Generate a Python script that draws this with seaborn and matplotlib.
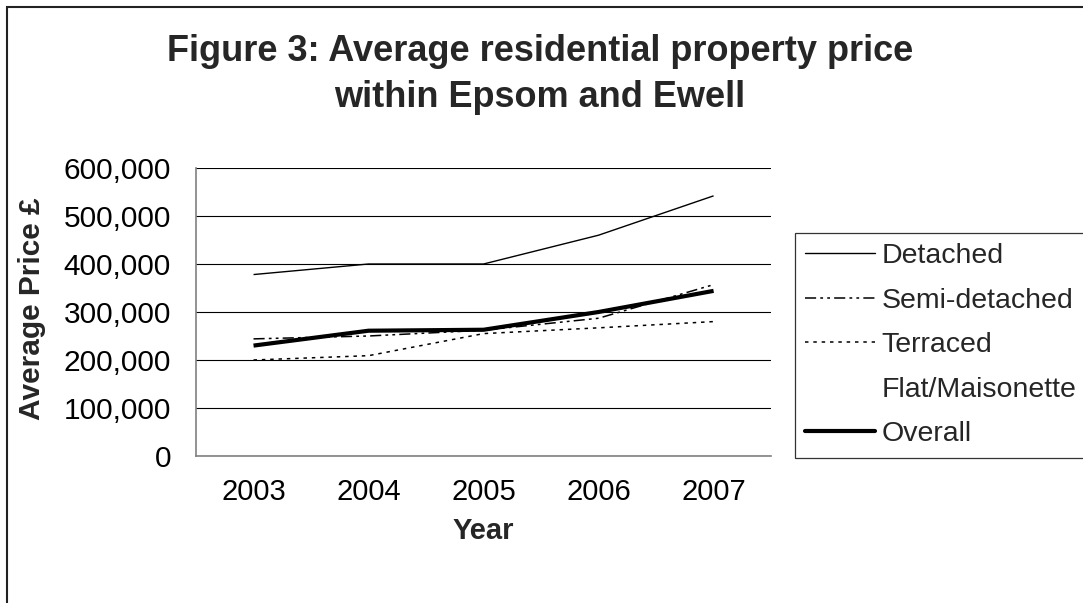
import numpy as np
import pandas as pd
import matplotlib
matplotlib.use("Agg")
import matplotlib.pyplot as plt
import seaborn as sns
from matplotlib.lines import Line2D
from matplotlib.patches import Rectangle
from matplotlib.ticker import FuncFormatter

# Average residential property prices (GBP) by dwelling type
years = ["2003", "2004", "2005", "2006", "2007"]
detached = [378000, 400000, 400000, 460000, 542000]
semi_detached = [244000, 250000, 262000, 287000, 357000]
terraced = [200000, 209000, 255000, 267000, 280000]
flat_maisonette = [np.nan, np.nan, np.nan, np.nan, np.nan]
overall = [230000, 261000, 263000, 300000, 344000]

series_names = ["Detached", "Semi-detached", "Terraced", "Flat/Maisonette", "Overall"]
series_values = [detached, semi_detached, terraced, flat_maisonette, overall]
y_ticks = [0, 100000, 200000, 300000, 400000, 500000, 600000]

df = pd.DataFrame({
    "Year": years * len(series_names),
    "Type": [n for n in series_names for _ in years],
    "Price": [v for vals in series_values for v in vals],
})

sns.set_style("white")
plt.rcParams["font.family"] = ["Liberation Sans", "DejaVu Sans"]
plt.rcParams["lines.scale_dashes"] = False

styles = {
    "Detached": dict(lw=1.0, ls="-"),
    "Semi-detached": dict(lw=1.1, ls=(0, (8, 3, 2, 3, 2, 3))),
    "Terraced": dict(lw=1.1, ls=(0, (2.5, 3.5))),
    "Flat/Maisonette": dict(lw=0.0, ls="None"),
    "Overall": dict(lw=3.0, ls="-"),
}

fig = plt.figure(figsize=(10.83, 6.03), dpi=100)
ax = fig.add_axes([0.181, 0.2438, 0.531, 0.4776])

for name in series_names:
    sub = df[df["Type"] == name].dropna()
    if sub.empty:
        continue
    st = styles[name]
    sns.lineplot(data=sub, x="Year", y="Price", ax=ax, color="black",
                 linewidth=st["lw"], linestyle=st["ls"], legend=False,
                 solid_capstyle="butt", dash_capstyle="butt", zorder=3)

ax.set_xlim(-0.5, 4.5)
ax.set_ylim(0, 600000)
ax.set_yticks(y_ticks)
ax.yaxis.set_major_formatter(FuncFormatter(lambda v, p: f"{int(v):,}"))
ax.set_xticks(range(len(years)))
ax.set_xticklabels(years)
ax.set_xticks(np.arange(-0.5, len(years), 1.0), minor=True)

ax.yaxis.grid(True, color="black", linewidth=0.8, zorder=0)
ax.xaxis.grid(False)
ax.set_axisbelow(True)

for s in ["top", "right"]:
    ax.spines[s].set_visible(False)
for s in ["left", "bottom"]:
    ax.spines[s].set_color("#808080")
    ax.spines[s].set_linewidth(1.2)

ax.tick_params(axis="y", which="major", length=6, width=1.0, color="#808080",
               direction="out", pad=12, labelsize=21.5, labelcolor="black")
ax.tick_params(axis="x", which="major", length=0, pad=16, labelsize=21,
               labelcolor="black")
ax.tick_params(axis="x", which="minor", length=6.5, width=1.0, color="#808080",
               direction="out")
ax.set_xlabel("")
ax.set_ylabel("")

fig.text(0.4986, 0.914, "Figure 3: Average residential property price",
         ha="center", va="center", fontsize=26, fontweight="bold")
fig.text(0.4986, 0.838, "within Epsom and Ewell",
         ha="center", va="center", fontsize=26, fontweight="bold")
fig.text(0.446, 0.1194, "Year", ha="center", va="center",
         fontsize=21, fontweight="bold")
fig.text(0.0295, 0.4876, "Average Price £", ha="center", va="center",
         rotation=90, fontsize=21.5, fontweight="bold")

handles = []
for name in series_names:
    st = styles[name]
    if st["ls"] == "None":
        handles.append(Line2D([], [], linestyle="None", color="none"))
    else:
        handles.append(Line2D([], [], color="black", linewidth=st["lw"],
                              linestyle=st["ls"]))
leg = fig.legend(handles, series_names, loc="upper left",
                 bbox_to_anchor=(795 / 1083, 1 - 233 / 603),
                 frameon=True, fancybox=False, fontsize=20.5,
                 handlelength=2.45, handletextpad=0.22, labelspacing=0.65,
                 borderpad=0.36, borderaxespad=0)
leg.get_frame().set_edgecolor("black")
leg.get_frame().set_linewidth(0.9)

fig.patches.append(Rectangle((7 / 1083, -0.05), 1.2, 1 - 7 / 603 + 0.05,
                             transform=fig.transFigure, fill=False,
                             edgecolor="#222222", linewidth=1.5))

fig.savefig("out.png", dpi=100)
